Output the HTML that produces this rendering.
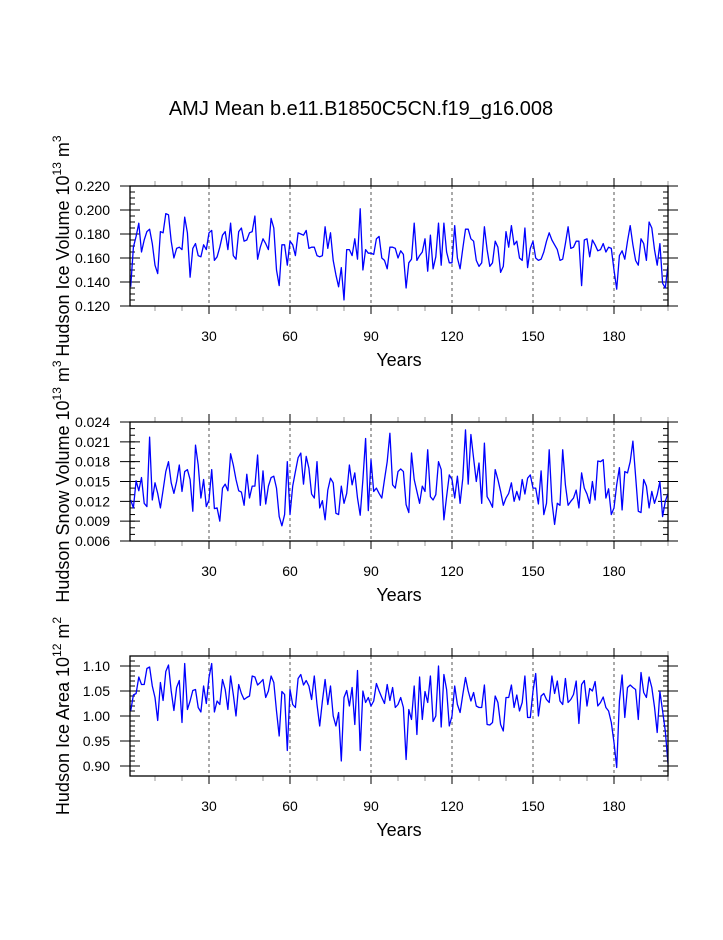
<!DOCTYPE html>
<html><head><meta charset="utf-8"><style>
body{margin:0;background:#fff;}
svg text{font-family:"Liberation Sans",sans-serif;fill:#000;}
</style></head><body>
<svg id="chart" width="723" height="935" xmlns="http://www.w3.org/2000/svg">
<text x="361" y="115" font-size="20" text-anchor="middle">AMJ Mean b.e11.B1850C5CN.f19_g16.008</text>
</svg>
<script>
const years = Array.from({length:200},(_,i)=>i+1);
const xTicks = [30,60,90,120,150,180];
const iceVolume = [0.136,0.169,0.178,0.189,0.165,0.175,0.182,0.184,0.172,0.154,0.147,0.182,0.181,0.197,0.196,0.174,0.160,0.168,0.169,0.167,0.194,0.181,0.144,0.168,0.172,0.162,0.161,0.171,0.167,0.181,0.183,0.158,0.161,0.169,0.179,0.182,0.167,0.189,0.162,0.159,0.182,0.185,0.174,0.175,0.181,0.182,0.195,0.159,0.169,0.176,0.172,0.167,0.193,0.185,0.150,0.137,0.171,0.171,0.154,0.174,0.171,0.162,0.181,0.180,0.179,0.183,0.168,0.169,0.169,0.162,0.161,0.162,0.186,0.168,0.181,0.158,0.146,0.136,0.152,0.125,0.167,0.167,0.162,0.176,0.159,0.201,0.150,0.167,0.164,0.164,0.163,0.176,0.178,0.160,0.158,0.151,0.169,0.169,0.168,0.160,0.166,0.163,0.135,0.156,0.159,0.189,0.158,0.162,0.165,0.176,0.149,0.179,0.151,0.161,0.189,0.154,0.189,0.165,0.156,0.156,0.187,0.160,0.151,0.168,0.184,0.184,0.176,0.174,0.158,0.153,0.156,0.186,0.167,0.153,0.156,0.174,0.169,0.148,0.153,0.182,0.169,0.187,0.171,0.174,0.160,0.158,0.185,0.152,0.168,0.174,0.160,0.158,0.159,0.165,0.174,0.181,0.175,0.171,0.167,0.158,0.159,0.172,0.186,0.168,0.169,0.174,0.174,0.137,0.175,0.176,0.161,0.175,0.171,0.166,0.167,0.172,0.165,0.169,0.168,0.150,0.134,0.162,0.166,0.159,0.174,0.187,0.171,0.158,0.154,0.176,0.172,0.158,0.190,0.185,0.167,0.154,0.172,0.139,0.135,0.154];
const iceTicks = [0.120,0.140,0.160,0.180,0.200,0.220];
const snowVolume = [12.2,11.0,15.1,13.6,15.6,11.7,11.2,21.7,12.2,14.8,13.2,11.0,13.7,16.5,18.0,14.8,13.2,15.0,17.5,13.5,16.5,16.8,15.3,10.5,20.5,17.5,12.5,15.3,11.2,12.2,16.8,10.9,11.0,9.0,14.0,14.6,13.6,19.2,17.5,15.3,13.6,13.4,11.4,16.1,12.5,14.3,14.3,19.0,11.4,16.6,11.6,14.3,15.6,15.8,14.0,9.7,8.3,10.0,18.0,10.0,14.3,16.5,18.6,19.3,14.6,18.8,17.0,13.1,12.5,18.0,11.0,12.1,9.2,13.7,15.5,14.8,10.2,10.0,14.3,11.7,13.2,17.5,14.5,16.3,12.5,9.9,15.3,21.5,10.6,18.3,13.5,14.0,13.2,12.5,15.3,18.0,22.3,14.5,14.0,16.5,16.9,16.5,11.5,10.3,19.3,15.3,13.5,11.7,14.3,13.5,19.8,12.7,12.2,13.0,18.0,16.8,9.2,12.7,16.0,15.3,12.5,15.8,11.7,15.5,22.8,14.6,22.1,18.5,15.0,17.8,11.7,20.8,12.7,12.0,11.1,16.8,15.3,13.5,11.4,12.5,13.2,14.8,12.0,13.5,12.2,15.3,13.1,15.5,16.0,14.0,14.0,11.6,16.6,10.0,11.7,19.8,12.0,8.5,11.7,11.4,19.8,14.5,11.4,12.0,12.5,13.7,11.0,16.3,14.0,13.1,11.7,15.0,12.2,18.1,18.0,18.3,12.5,13.9,10.0,11.0,14.5,17.1,10.7,16.5,16.3,18.0,21.1,15.8,10.5,10.3,15.3,14.3,11.0,13.5,11.7,13.0,15.0,9.7,12.0,13.2].map(v=>v/1000);
const snowTicks = [0.006,0.009,0.012,0.015,0.018,0.021,0.024];
const iceArea = [1.010,1.042,1.045,1.078,1.063,1.063,1.095,1.098,1.060,1.037,0.991,1.067,1.031,1.089,1.102,1.050,1.011,1.057,1.071,0.987,1.105,1.013,1.030,1.051,1.053,1.017,1.008,1.060,1.025,1.077,1.105,1.008,1.030,1.023,1.073,1.053,1.013,1.080,1.043,1.000,1.063,1.045,1.033,1.037,1.040,1.080,1.078,1.062,1.067,1.073,1.037,1.050,1.080,1.067,1.010,0.960,1.049,1.043,0.931,1.053,1.023,1.017,1.075,1.083,1.062,1.071,1.060,1.033,1.080,1.023,0.980,1.030,1.073,1.023,1.060,1.000,0.980,1.007,0.910,1.037,1.051,1.020,1.057,0.983,1.091,0.931,1.050,1.027,1.037,1.020,1.030,1.065,1.050,1.037,1.025,1.063,1.031,1.057,1.017,1.023,1.037,1.017,0.913,1.013,0.993,1.060,0.963,1.078,0.993,1.049,1.027,1.080,0.989,1.000,1.100,0.978,1.083,1.053,0.980,1.000,1.060,1.023,1.007,1.043,1.077,1.050,1.030,1.047,1.020,1.017,1.017,1.062,0.983,0.982,0.987,1.040,1.027,0.983,0.970,1.037,1.037,1.062,1.017,1.042,1.010,1.027,1.080,0.997,0.997,1.050,1.085,1.000,1.040,1.045,1.033,1.027,1.080,1.045,1.070,1.030,1.023,1.075,1.027,1.033,1.043,1.070,0.985,1.063,1.071,1.020,1.055,1.050,1.069,1.020,1.027,1.038,1.017,1.010,0.987,0.947,0.897,1.030,1.082,0.997,1.057,1.062,1.057,1.053,0.993,1.087,1.047,1.037,1.078,1.057,1.018,0.967,1.049,1.010,0.970,0.905];
const areaTicks = [0.90,0.95,1.00,1.05,1.10];

const NS="http://www.w3.org/2000/svg";
const svg=document.getElementById('chart');
const X0=130.7,X1=668,L=130,R=668;
const xs=y=>X0+(y-1)*(X1-X0)/199;
function mk(tag,attrs,parent){const e=document.createElementNS(NS,tag);for(const k in attrs)e.setAttribute(k,attrs[k]);(parent||svg).appendChild(e);return e;}

function panel(key,top,bot,ymin,ymax,ticks,fmt,minorStep,data,titleMain,exp,unitExp){
  const g=mk('g',{});
  
  
  const ys=v=>bot-(v-ymin)/(ymax-ymin)*(bot-top);
  xTicks.forEach(t=>{const l=mk('line',{x1:xs(t),x2:xs(t),y1:top,y2:bot,stroke:'#555','stroke-width':1,'stroke-dasharray':'3,3'},g);
    
    });
  for(let t=10;t<=200;t+=10){const maj=xTicks.includes(t);const len=maj?8:5;
    mk('line',{x1:xs(t),x2:xs(t),y1:top-len,y2:top,stroke:maj?'#000':'#999','stroke-width':1},g);
    mk('line',{x1:xs(t),x2:xs(t),y1:bot,y2:bot+len,stroke:maj?'#000':'#999','stroke-width':1},g);}
  const eps=1e-9;
  for(let v=ymin;v<=ymax+eps;v+=minorStep){const y=ys(v);
    mk('line',{x1:L,x2:L+5,y1:y,y2:y,stroke:'#000','stroke-width':1},g);
    mk('line',{x1:R-5,x2:R,y1:y,y2:y,stroke:'#000','stroke-width':1},g);}
  ticks.forEach(v=>{const y=ys(v);
    mk('line',{x1:L-10,x2:L+10,y1:y,y2:y,stroke:'#000','stroke-width':1},g);
    mk('line',{x1:R-10,x2:R+10,y1:y,y2:y,stroke:'#000','stroke-width':1},g);
    const t=mk('text',{x:110,y:y+5,'font-size':14,'text-anchor':'end'},g);t.textContent=fmt(v);
    
    });
  xTicks.forEach(v=>{const t=mk('text',{x:xs(v),y:bot+35,'font-size':14,'text-anchor':'middle'},g);t.textContent=v;
    
    });
  const d=data.map((v,i)=>(i?'L':'M')+xs(years[i]).toFixed(2)+','+ys(v).toFixed(2)).join('');
  const p=mk('path',{d:d,fill:'none',stroke:'#0000ff','stroke-width':1.3,'stroke-linejoin':'round'},g);
  
  
  const b=mk('rect',{x:L,y:top,width:R-L,height:bot-top,fill:'none',stroke:'#000','stroke-width':1.3},g);
  
  
  const xt=mk('text',{x:399,y:bot+60,'font-size':18,'text-anchor':'middle'},g);xt.textContent='Years';
  
  
  const cy=(top+bot)/2;
  const yt=mk('text',{x:0,y:0,'font-size':18,'text-anchor':'middle',transform:`translate(69,${cy}) rotate(-90)`},g);
  
  
  yt.innerHTML=`${titleMain} 10<tspan dy="-8" font-size="12">${exp}</tspan><tspan dy="8"> m</tspan><tspan dy="-8" font-size="12">${unitExp}</tspan>`;
}
panel('ice-volume',186,306,0.12,0.22,iceTicks,v=>v.toFixed(3),0.005,iceVolume,'Hudson Ice Volume','13','3');
panel('snow-volume',422,541,0.006,0.024,snowTicks,v=>v.toFixed(3),0.001,snowVolume,'Hudson Snow Volume','13','3');
panel('ice-area',656,776,0.88,1.12,areaTicks,v=>v.toFixed(2),0.01,iceArea,'Hudson Ice Area','12','2');
</script>
</body></html>
